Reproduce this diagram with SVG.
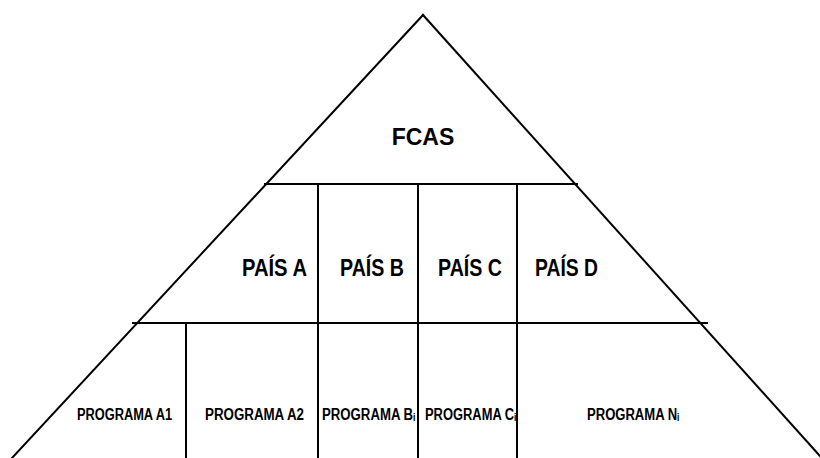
<svg xmlns="http://www.w3.org/2000/svg" width="820" height="458" viewBox="0 0 820 458">
<style>
.ln{stroke:#000;stroke-width:2;fill:none;stroke-linecap:square}
.t{font-family:"Liberation Sans","DejaVu Sans",Arial,sans-serif;font-weight:bold;fill:#000}
.big{font-size:23px}
.sm{font-size:16px}
</style>
<rect width="820" height="458" fill="#fff"/>
<g id="connectors">
<line class="ln" x1="423" y1="15" x2="12" y2="458"/>
<line class="ln" x1="423" y1="15" x2="820" y2="456"/>
<line class="ln" x1="265" y1="184" x2="577" y2="184"/>
<line class="ln" x1="133" y1="323" x2="707" y2="323"/>
<line class="ln" x1="318" y1="184" x2="318" y2="458"/>
<line class="ln" x1="418" y1="184" x2="418" y2="458"/>
<line class="ln" x1="517" y1="184" x2="517" y2="458"/>
<line class="ln" x1="186" y1="323" x2="186" y2="458"/>
</g>
<g id="fcas"><text class="t big" x="423" y="145" text-anchor="middle">FCAS</text></g>
<g id="pais-a"><text class="t big" x="242" y="276" textLength="65" lengthAdjust="spacingAndGlyphs">PAÍS A</text></g>
<g id="pais-b"><text class="t big" x="340" y="276" textLength="64" lengthAdjust="spacingAndGlyphs">PAÍS B</text></g>
<g id="pais-c"><text class="t big" x="438" y="276" textLength="64" lengthAdjust="spacingAndGlyphs">PAÍS C</text></g>
<g id="pais-d"><text class="t big" x="535" y="276" textLength="63" lengthAdjust="spacingAndGlyphs">PAÍS D</text></g>
<g id="prog-a1"><text class="t sm" x="77" y="420" textLength="95" lengthAdjust="spacingAndGlyphs">PROGRAMA A1</text></g>
<g id="prog-a2"><text class="t sm" x="205" y="420" textLength="99" lengthAdjust="spacingAndGlyphs">PROGRAMA A2</text></g>
<g id="prog-b"><text class="t sm" x="322" y="420" textLength="93" lengthAdjust="spacingAndGlyphs">PROGRAMA Bᵢ</text></g>
<g id="prog-c"><text class="t sm" x="425" y="420" textLength="91" lengthAdjust="spacingAndGlyphs">PROGRAMA Cᵢ</text></g>
<g id="prog-n"><text class="t sm" x="587" y="420" textLength="92" lengthAdjust="spacingAndGlyphs">PROGRAMA Nᵢ</text></g>
</svg>
